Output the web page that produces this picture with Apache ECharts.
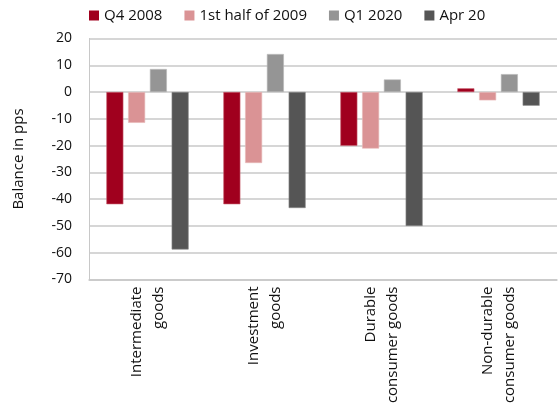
<!DOCTYPE html>
<html>
<head>
<meta charset="utf-8">
<script src="https://cdn.jsdelivr.net/npm/echarts@6/dist/echarts.min.js"></script>
<style>html,body{margin:0;padding:0;background:#fff}#c{width:559px;height:412px}</style>
</head>
<body>
<div id="c"></div>
<script>
const categories = ['Intermediate\ngoods', 'Investment\ngoods', 'Durable\nconsumer goods', 'Non-durable\nconsumer goods'];
const seriesNames = ['Q4 2008', '1st half of 2009', 'Q1 2020', 'Apr 20'];
const q42008 = [-41.9, -41.9, -20.1, 1.4];
const h12009 = [-11.5, -26.5, -21.1, -3.1];
const q12020 = [8.6, 14.2, 4.7, 6.7];
const apr20 = [-58.8, -43.3, -50.0, -5.1];
const yTicks = [20, 10, 0, -10, -20, -30, -40, -50, -60, -70];

const colors = ['#A0001E', '#DA9395', '#959595', '#555555'];
const borders = ['#c86070', '#e8b8b8', '#b8b8b8', '#8a8a8a'];
const values = [q42008, h12009, q12020, apr20];
const font = 'Open Sans';

const chart = echarts.init(document.getElementById('c'));
chart.setOption({
  animation: false,
  textStyle: { fontFamily: font },
  legend: {
    top: 8, left: 89, padding: 0,
    itemWidth: 10, itemHeight: 10, itemGap: 22,
    icon: 'rect',
    itemStyle: { borderWidth: 0 },
    textStyle: { fontSize: 15, color: '#111', fontFamily: font },
    data: seriesNames
  },
  grid: { left: 89, right: 2, top: 38.5, bottom: 132.5, containLabel: false },
  xAxis: {
    type: 'category',
    data: categories,
    position: 'bottom',
    axisLine: { show: true, onZero: false, lineStyle: { color: '#c8c8c8', width: 1.5 } },
    axisTick: { show: false },
    axisLabel: { rotate: 90, fontSize: 15, color: '#111', lineHeight: 22, margin: 7, interval: 0 }
  },
  yAxis: {
    type: 'value',
    min: -70, max: 20, interval: 10,
    name: 'Balance in pps',
    nameLocation: 'middle',
    nameGap: 63,
    nameTextStyle: { fontSize: 15, color: '#111' },
    axisLine: { show: true, lineStyle: { color: '#c8c8c8', width: 1 } },
    axisTick: { show: false },
    axisLabel: { fontSize: 14, color: '#111', margin: 17,
      formatter: v => yTicks.includes(v) ? String(v) : '' },
    splitLine: { lineStyle: { color: '#c8c8c8', width: 1.5 } }
  },
  series: seriesNames.map((n, i) => ({
    name: n,
    type: 'bar',
    data: values[i],
    barWidth: 17,
    barGap: '28%',
    barCategoryGap: '30%',
    itemStyle: { color: colors[i], borderColor: borders[i], borderWidth: 0.6 }
  }))
});
</script>
</body>
</html>
